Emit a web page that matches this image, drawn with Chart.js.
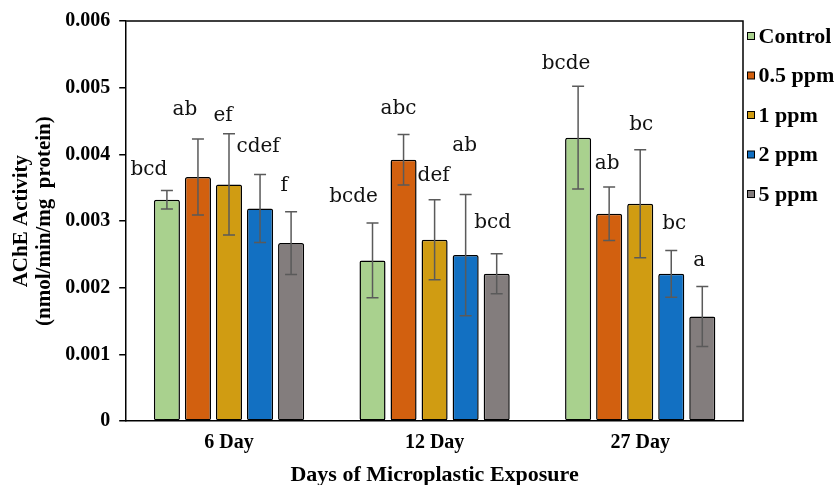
<!DOCTYPE html>
<html>
<head>
<meta charset="utf-8">
<script src="https://cdn.jsdelivr.net/npm/chart.js@4.4.1/dist/chart.umd.min.js"></script>
<style>
  html, body { margin: 0; padding: 0; background: #fff; }
  #wrap { width: 834px; height: 485px; position: relative; }
</style>
</head>
<body>
<div id="wrap"><canvas id="chart"></canvas></div>
<script>
// --- data ---
const DAYS = ['6 Day', '12 Day', '27 Day'];
const SERIES = ['Control', '0.5 ppm', '1 ppm', '2 ppm', '5 ppm'];

const MEAN_CONTROL = [0.00332, 0.00241, 0.00425];
const MEAN_05PPM   = [0.00366, 0.00392, 0.00311];
const MEAN_1PPM    = [0.00355, 0.00272, 0.00326];
const MEAN_2PPM    = [0.00319, 0.00249, 0.00221];
const MEAN_5PPM    = [0.00267, 0.00221, 0.00157];

const ERR_CONTROL = [0.00014, 0.00056, 0.00077];
const ERR_05PPM   = [0.00057, 0.00038, 0.00040];
const ERR_1PPM    = [0.00076, 0.00060, 0.00081];
const ERR_2PPM    = [0.00051, 0.00091, 0.00035];
const ERR_5PPM    = [0.00047, 0.00030, 0.00045];

const LETTERS_CONTROL = ['bcd', 'bcde', 'bcde'];
const LETTERS_05PPM   = ['ab', 'abc', 'ab'];
const LETTERS_1PPM    = ['ef', 'def', 'bc'];
const LETTERS_2PPM    = ['cdef', 'ab', 'bc'];
const LETTERS_5PPM    = ['f', 'bcd', 'a'];

const Y_TICKS = [0, 0.001, 0.002, 0.003, 0.004, 0.005, 0.006];

// --- styling ---
const COLORS = ['#a9d18e', '#d2600f', '#d09c12', '#1270c2', '#837d7d'];
const MEANS = [MEAN_CONTROL, MEAN_05PPM, MEAN_1PPM, MEAN_2PPM, MEAN_5PPM];
const ERRS = [ERR_CONTROL, ERR_05PPM, ERR_1PPM, ERR_2PPM, ERR_5PPM];
const LETTERS = [LETTERS_CONTROL, LETTERS_05PPM, LETTERS_1PPM, LETTERS_2PPM, LETTERS_5PPM];

// small hand nudges for the significance letters (dx, dy from error-bar top), like the original
const LETTER_NUDGE = [
  [[-18, -21], [-19, -26], [-12, -23]],
  [[-13, -29], [-5, -26], [-2, -23]],
  [[-6, -18], [-1, -24], [1, -25]],
  [[-2, -28], [-1, -49], [3, -27]],
  [[-7, -26], [-4, -31], [-3, -26]]
];

const SERIF = '"Liberation Serif", "Times New Roman", serif';

const errorBars = {
  id: 'errorBars',
  afterDatasetsDraw(chart) {
    const ctx = chart.ctx;
    const y = chart.scales.y;
    ctx.save();
    ctx.strokeStyle = '#5a5a5a';
    ctx.lineWidth = 1.5;
    chart.data.datasets.forEach((ds, di) => {
      const meta = chart.getDatasetMeta(di);
      meta.data.forEach((bar, i) => {
        const m = MEANS[di][i], e = ERRS[di][i];
        const yt = y.getPixelForValue(m + e);
        const yb = y.getPixelForValue(m - e);
        ctx.beginPath();
        ctx.moveTo(bar.x, yt); ctx.lineTo(bar.x, yb);
        ctx.moveTo(bar.x - 6, yt); ctx.lineTo(bar.x + 6, yt);
        ctx.moveTo(bar.x - 6, yb); ctx.lineTo(bar.x + 6, yb);
        ctx.stroke();
        // significance letter
        const n = LETTER_NUDGE[di][i];
        ctx.fillStyle = '#111';
        ctx.font = '20px "DejaVu Serif", serif';
        ctx.textAlign = 'center';
        ctx.textBaseline = 'middle';
        ctx.fillText(LETTERS[di][i], bar.x + n[0], yt + n[1]);
      });
    });
    ctx.restore();
  }
};

// top/right frame of the plot area plus the legend column on the right
const frameAndLegend = {
  id: 'frameAndLegend',
  afterDraw(chart) {
    const a = chart.chartArea, ctx = chart.ctx;
    ctx.save();
    ctx.strokeStyle = '#000';
    ctx.lineWidth = 1.5;
    ctx.beginPath();
    ctx.moveTo(a.left, a.top);
    ctx.lineTo(a.right, a.top);
    ctx.lineTo(a.right, a.bottom);
    ctx.stroke();

    ctx.font = 'bold 22px ' + SERIF;
    ctx.textAlign = 'left';
    ctx.textBaseline = 'middle';
    ctx.lineWidth = 1;
    chart.data.datasets.forEach((ds, i) => {
      const cy = a.top + 15 + i * 39.5;
      const bx = a.right + 4.5;
      ctx.fillStyle = ds.backgroundColor;
      ctx.fillRect(bx, cy - 3.5, 7, 7);
      ctx.strokeStyle = '#000';
      ctx.strokeRect(bx, cy - 3.5, 7, 7);
      ctx.fillStyle = '#000';
      ctx.fillText(ds.label, bx + 11, cy + 1);
    });
    ctx.restore();
  }
};

new Chart(document.getElementById('chart'), {
  type: 'bar',
  data: {
    labels: DAYS,
    datasets: SERIES.map((name, i) => ({
      label: name,
      data: MEANS[i],
      backgroundColor: COLORS[i],
      borderColor: '#000',
      borderWidth: 1.5,
      borderRadius: 2,
      borderSkipped: false,
      categoryPercentage: 0.755,
      barPercentage: 0.84
    }))
  },
  options: {
    responsive: true,
    maintainAspectRatio: false,
    animation: false,
    layout: { padding: { top: 14, right: 91, bottom: 0, left: 10 } },
    plugins: {
      legend: { display: false },
      tooltip: { enabled: false }
    },
    scales: {
      x: {
        grid: { display: false, drawTicks: false },
        border: { color: '#000', width: 1.5 },
        ticks: { color: '#000', padding: 12, font: { family: SERIF, size: 20, weight: 'bold', lineHeight: 1.0 } },
        title: {
          display: true, text: 'Days of Microplastic Exposure', color: '#000',
          font: { family: SERIF, size: 22, weight: 'bold', lineHeight: 0.9 }, padding: { top: 0, bottom: 0 }
        }
      },
      y: {
        min: 0, max: 0.006,
        afterBuildTicks(axis) { axis.ticks = Y_TICKS.map(v => ({ value: v })); },
        grid: { drawOnChartArea: false, drawTicks: true, tickLength: 7, color: '#000', lineWidth: 1.5 },
        border: { color: '#000', width: 1.5 },
        ticks: {
          color: '#000', padding: 9,
          font: { family: SERIF, size: 20, weight: 'bold' },
          callback: v => v === 0 ? '0' : v.toFixed(3)
        },
        title: {
          display: true, text: ['AChE Activity', '(nmol/min/mg  protein)'], color: '#000',
          font: { family: SERIF, size: 21, weight: 'bold', lineHeight: 1.1 }, padding: { top: 0, bottom: 0 }
        }
      }
    }
  },
  plugins: [errorBars, frameAndLegend]
});
</script>
</body>
</html>
